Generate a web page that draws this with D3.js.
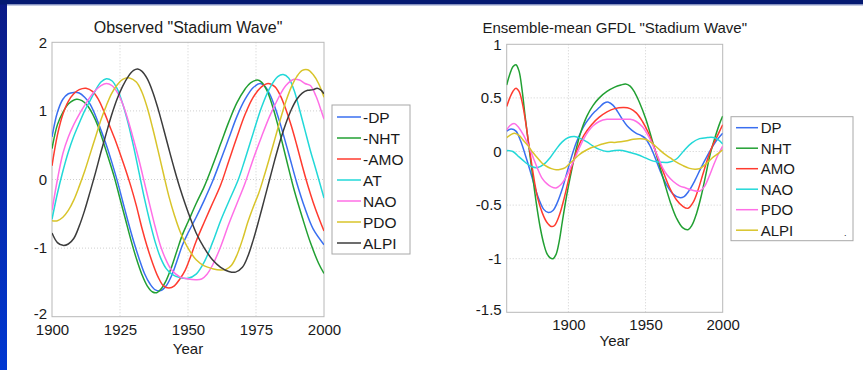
<!DOCTYPE html>
<html>
<head>
<meta charset="utf-8">
<script src="https://cdn.jsdelivr.net/npm/d3@7"></script>
<style>
  html, body { margin: 0; padding: 0; background: #ffffff; }
  svg { display: block; }
  text { font-family: "Liberation Sans", Arial, Helvetica, sans-serif; fill: #1a1a1a; }
</style>
</head>
<body>
<svg id="chart" width="863" height="370"></svg>
<script>
// ---------- Observed indices (1900-2000) ----------
const obsNames = ["-DP", "-NHT", "-AMO", "AT", "NAO", "PDO", "ALPI"];
const obsDP = [[1900,0.62],[1902,0.98],[1904,1.17],[1906,1.25],[1908,1.27],[1910,1.26],[1912,1.2],[1914,1.1],[1916,0.93],[1918,0.72],[1920,0.5],[1922,0.25],[1924,-0.02],[1926,-0.32],[1928,-0.62],[1930,-0.9],[1932,-1.15],[1934,-1.37],[1936,-1.52],[1938,-1.61],[1940,-1.62],[1942,-1.55],[1944,-1.4],[1946,-1.18],[1948,-0.95],[1950,-0.78],[1953,-0.55],[1956,-0.3],[1959,-0.03],[1962,0.28],[1965,0.6],[1968,0.92],[1971,1.17],[1974,1.34],[1976.5,1.40],[1978,1.37],[1980,1.25],[1982,1.05],[1984,0.8],[1987,0.38],[1990,-0.05],[1993,-0.42],[1996,-0.72],[2000,-0.95]];
const obsNHT = [[1900,0.45],[1902,0.8],[1904,0.98],[1906,1.1],[1909,1.17],[1911,1.15],[1913,1.08],[1915,0.95],[1917,0.77],[1919,0.53],[1921,0.28],[1923,0.02],[1925,-0.28],[1927,-0.58],[1929,-0.88],[1931,-1.15],[1933,-1.38],[1935,-1.55],[1937,-1.64],[1938.5,-1.65],[1940,-1.6],[1942,-1.47],[1944,-1.27],[1946,-1.03],[1948,-0.8],[1950,-0.62],[1953,-0.35],[1956,-0.1],[1959,0.2],[1962,0.52],[1965,0.84],[1968,1.12],[1971,1.32],[1973,1.41],[1975.5,1.45],[1977,1.42],[1979,1.3],[1981,1.08],[1983,0.8],[1986,0.32],[1989,-0.15],[1992,-0.55],[1995,-0.92],[1998,-1.22],[2000,-1.37]];
const obsAMO = [[1900,0.2],[1902,0.65],[1904,0.95],[1906,1.14],[1908,1.25],[1910,1.31],[1912.5,1.33],[1915,1.28],[1917,1.17],[1919,1.0],[1921,0.8],[1923,0.6],[1925,0.38],[1927,0.15],[1929,-0.1],[1931,-0.38],[1933,-0.7],[1935,-0.98],[1937,-1.22],[1939,-1.42],[1941,-1.55],[1943,-1.58],[1945,-1.55],[1947,-1.45],[1949,-1.32],[1951,-1.12],[1953,-0.9],[1956,-0.62],[1959,-0.35],[1962,-0.08],[1965,0.27],[1968,0.62],[1971,0.95],[1974,1.2],[1977,1.35],[1979.5,1.40],[1982,1.35],[1984,1.22],[1986,1.02],[1988,0.78],[1990,0.5],[1992,0.2],[1994,-0.08],[1996,-0.33],[1998,-0.55],[2000,-0.75]];
const obsAT = [[1900,-0.58],[1902,-0.2],[1904,0.12],[1906,0.4],[1908,0.63],[1910,0.82],[1912,1.0],[1914,1.15],[1916,1.3],[1918,1.42],[1920,1.47],[1922,1.44],[1924,1.32],[1926,1.1],[1928,0.82],[1930,0.48],[1932,0.1],[1934,-0.28],[1936,-0.62],[1938,-0.92],[1940,-1.15],[1942,-1.3],[1944,-1.38],[1947,-1.43],[1950,-1.44],[1953,-1.38],[1956,-1.2],[1959,-0.92],[1962,-0.6],[1965,-0.32],[1968.5,0.0],[1971,0.3],[1974,0.68],[1977,1.05],[1980,1.33],[1983,1.5],[1985,1.53],[1987,1.48],[1989,1.3],[1991,1.02],[1993,0.72],[1995,0.42],[1997,0.15],[2000,-0.27]];
const obsNAO = [[1900,-0.45],[1902,0.0],[1904,0.38],[1906,0.62],[1908,0.8],[1910,0.95],[1912,1.08],[1914,1.2],[1916,1.3],[1918,1.37],[1920,1.4],[1922,1.37],[1924,1.27],[1926,1.1],[1928,0.86],[1930,0.58],[1932,0.28],[1934,-0.05],[1936,-0.38],[1938,-0.7],[1940,-0.98],[1942,-1.18],[1944,-1.32],[1947,-1.42],[1950,-1.45],[1953,-1.46],[1955,-1.45],[1957,-1.38],[1959,-1.25],[1962,-0.98],[1965,-0.65],[1968,-0.35],[1971,-0.05],[1974,0.3],[1977,0.62],[1980,0.92],[1983,1.17],[1986,1.37],[1989,1.46],[1991,1.45],[1993,1.4],[1995,1.37],[1997,1.22],[1999,1.0],[2000,0.88]];
const obsPDO = [[1900,-0.6],[1902,-0.6],[1904,-0.55],[1906,-0.45],[1908,-0.3],[1910,-0.1],[1912,0.12],[1914,0.37],[1916,0.62],[1918,0.87],[1920,1.08],[1922,1.26],[1924,1.38],[1926,1.46],[1928.5,1.48],[1931,1.42],[1933,1.28],[1935,1.05],[1937,0.75],[1939,0.42],[1941,0.08],[1943,-0.25],[1945,-0.52],[1947,-0.75],[1950,-1.0],[1953,-1.17],[1956,-1.26],[1959,-1.3],[1962,-1.32],[1964,-1.31],[1966,-1.25],[1968,-1.1],[1970,-0.88],[1972,-0.62],[1974,-0.4],[1976,-0.2],[1978,0.05],[1980,0.32],[1982,0.6],[1984,0.88],[1986,1.14],[1988,1.35],[1990,1.5],[1992,1.59],[1994,1.6],[1996,1.53],[1998,1.4],[2000,1.2]];
const obsALPI = [[1900,-0.78],[1902,-0.92],[1904,-0.96],[1906,-0.94],[1908,-0.86],[1910,-0.68],[1912,-0.45],[1914,-0.18],[1916,0.1],[1918,0.4],[1920,0.68],[1922,0.95],[1924,1.18],[1926,1.36],[1928,1.5],[1930,1.59],[1931.5,1.61],[1933,1.58],[1935,1.47],[1937,1.28],[1939,1.03],[1941,0.74],[1943,0.44],[1945,0.15],[1947,-0.12],[1949,-0.36],[1951,-0.58],[1953,-0.78],[1956,-1.0],[1959,-1.17],[1962,-1.28],[1965,-1.34],[1967.5,-1.35],[1970,-1.28],[1972,-1.12],[1974,-0.88],[1976,-0.6],[1978,-0.3],[1980,0.0],[1982,0.3],[1984,0.58],[1986,0.82],[1988,1.02],[1990,1.17],[1992,1.26],[1994,1.3],[1996,1.31],[1997.5,1.33],[1999,1.3],[2000,1.25]];

// ---------- GFDL ensemble-mean indices (1860-2000) ----------
const gfdlNames = ["DP", "NHT", "AMO", "NAO", "PDO", "ALPI"];
const gfdlDP = [[1860,0.19],[1863,0.21],[1866,0.19],[1869,0.1],[1872,-0.03],[1875,-0.17],[1878,-0.32],[1881,-0.45],[1884,-0.54],[1887,-0.57],[1890,-0.55],[1893,-0.47],[1896,-0.35],[1899,-0.2],[1902,-0.05],[1905,0.08],[1908,0.18],[1911,0.26],[1914,0.32],[1917,0.37],[1920,0.41],[1923,0.45],[1926,0.46],[1929,0.43],[1932,0.37],[1935,0.3],[1938,0.24],[1941,0.2],[1944,0.17],[1947,0.15],[1950,0.12],[1953,0.05],[1956,-0.05],[1960,-0.2],[1964,-0.32],[1968,-0.4],[1972,-0.43],[1975,-0.42],[1978,-0.37],[1982,-0.27],[1986,-0.15],[1990,-0.04],[1994,0.06],[1997,0.12],[2000,0.17]];
const gfdlNHT = [[1860,0.62],[1862,0.72],[1864,0.79],[1866,0.81],[1868,0.75],[1870,0.57],[1872,0.32],[1874,0.09],[1876,-0.14],[1878,-0.36],[1880,-0.56],[1882,-0.73],[1884,-0.86],[1886,-0.95],[1888,-0.99],[1890,-1.0],[1892,-0.96],[1894,-0.84],[1896,-0.66],[1899,-0.4],[1902,-0.18],[1905,0.02],[1908,0.18],[1912,0.33],[1916,0.43],[1920,0.5],[1925,0.56],[1930,0.6],[1934,0.62],[1937,0.63],[1940,0.61],[1943,0.55],[1946,0.46],[1950,0.31],[1954,0.12],[1958,-0.08],[1962,-0.28],[1966,-0.47],[1970,-0.62],[1974,-0.71],[1977.5,-0.73],[1980,-0.69],[1983,-0.58],[1986,-0.42],[1989,-0.22],[1992,-0.02],[1995,0.13],[1998,0.26],[2000,0.33]];
const gfdlAMO = [[1860,0.42],[1862,0.5],[1864,0.56],[1866,0.59],[1868,0.56],[1870,0.46],[1872,0.3],[1874,0.1],[1876,-0.1],[1878,-0.28],[1880,-0.43],[1883,-0.57],[1886,-0.66],[1889,-0.7],[1891,-0.69],[1894,-0.6],[1897,-0.45],[1900,-0.27],[1903,-0.1],[1906,0.03],[1910,0.15],[1915,0.25],[1920,0.32],[1925,0.37],[1930,0.4],[1936,0.41],[1940,0.4],[1944,0.36],[1948,0.28],[1952,0.17],[1955,0.06],[1958,-0.06],[1962,-0.21],[1966,-0.35],[1970,-0.45],[1974,-0.51],[1977.5,-0.53],[1981,-0.47],[1984,-0.36],[1987,-0.22],[1990,-0.08],[1993,0.04],[1996,0.13],[2000,0.25]];
const gfdlNAO = [[1860,0.01],[1864,0.0],[1868,-0.05],[1872,-0.1],[1876,-0.14],[1880,-0.15],[1884,-0.12],[1888,-0.06],[1892,0.02],[1896,0.09],[1900,0.13],[1904,0.14],[1908,0.12],[1912,0.09],[1916,0.05],[1920,0.02],[1925,0.0],[1930,0.01],[1935,0.01],[1940,-0.01],[1945,-0.03],[1950,-0.06],[1955,-0.09],[1960,-0.1],[1965,-0.1],[1970,-0.07],[1975,0.01],[1980,0.08],[1985,0.12],[1990,0.13],[1994,0.13],[1997,0.11],[2000,0.07]];
const gfdlPDO = [[1860,0.2],[1862,0.24],[1865,0.26],[1868,0.22],[1871,0.15],[1874,0.06],[1877,-0.05],[1880,-0.16],[1883,-0.25],[1886,-0.3],[1889,-0.33],[1892,-0.34],[1895,-0.31],[1898,-0.25],[1901,-0.16],[1904,-0.07],[1907,0.03],[1910,0.12],[1913,0.19],[1916,0.24],[1920,0.28],[1925,0.3],[1930,0.3],[1935,0.3],[1940,0.3],[1944,0.28],[1948,0.23],[1952,0.14],[1955,0.05],[1958,-0.05],[1961,-0.15],[1964,-0.22],[1968,-0.28],[1972,-0.32],[1976,-0.34],[1980,-0.36],[1985,-0.37],[1988,-0.33],[1991,-0.24],[1994,-0.13],[1997,-0.03],[2000,0.05]];
const gfdlALPI = [[1860,0.13],[1863,0.16],[1865,0.17],[1868,0.15],[1871,0.1],[1874,0.05],[1877,-0.01],[1880,-0.06],[1883,-0.11],[1886,-0.14],[1889,-0.16],[1892,-0.17],[1895,-0.165],[1898,-0.15],[1901,-0.11],[1904,-0.07],[1907,-0.03],[1910,0.0],[1914,0.03],[1918,0.05],[1922,0.07],[1926,0.085],[1930,0.085],[1934,0.09],[1938,0.1],[1942,0.115],[1946,0.12],[1950,0.115],[1954,0.08],[1958,0.03],[1962,-0.02],[1966,-0.06],[1970,-0.1],[1974,-0.13],[1978,-0.155],[1982,-0.165],[1985,-0.16],[1988,-0.13],[1991,-0.09],[1994,-0.05],[1997,-0.02],[2000,0.015]];

// ---------- Axis ticks ----------
const obsXTicks = [1900, 1925, 1950, 1975, 2000];
const obsYTicks = [-2, -1, 0, 1, 2];
const gfdlXTicks = [1900, 1950, 2000];
const gfdlYTicks = [-1.5, -1, -0.5, 0, 0.5, 1];

// ---------- Styling ----------
const obsColors = ["#3a6ff0", "#22a033", "#ff3b2f", "#22d8d8", "#ff6fe6", "#d8c42a", "#3c3c3c"];
const gfdlColors = ["#3a6ff0", "#22a033", "#ff3b2f", "#22d8d8", "#ff6fe6", "#d8c42a"];

const svg = d3.select("#chart");

// Slide-style frame: navy band across the top, blue strip on the left
const defs = svg.append("defs");
const grad = defs.append("linearGradient").attr("id", "strip").attr("x1", 0).attr("y1", 0).attr("x2", 0).attr("y2", 1);
grad.append("stop").attr("offset", "0%").attr("stop-color", "#0b1a86");
grad.append("stop").attr("offset", "100%").attr("stop-color", "#0038d2");
svg.append("rect").attr("x", 0).attr("y", 0).attr("width", 863).attr("height", 370).attr("fill", "#ffffff");
svg.append("rect").attr("x", 0).attr("y", 0).attr("width", 7).attr("height", 370).attr("fill", "url(#strip)");
svg.append("rect").attr("x", 0).attr("y", 0).attr("width", 863).attr("height", 4.5).attr("fill", "#051a72");
svg.append("rect").attr("x", 7).attr("y", 4.5).attr("width", 856).attr("height", 1).attr("fill", "#8c98c8");

function drawPanel(cfg) {
  const x = d3.scaleLinear().domain(cfg.xDomain).range([cfg.left, cfg.right]);
  const y = d3.scaleLinear().domain(cfg.yDomain).range([cfg.bottom, cfg.top]);
  const g = svg.append("g");

  // dotted grid
  g.append("g").selectAll("line").data(cfg.xTicks.filter(t => t > cfg.xDomain[0] && t < cfg.xDomain[1]))
    .join("line")
    .attr("x1", d => x(d)).attr("x2", d => x(d))
    .attr("y1", cfg.top).attr("y2", cfg.bottom)
    .attr("stroke", "#cfcfcf").attr("stroke-width", 1).attr("stroke-dasharray", "1,2");
  g.append("g").selectAll("line").data(cfg.yTicks.filter(t => t > cfg.yDomain[0] && t < cfg.yDomain[1]))
    .join("line")
    .attr("x1", cfg.left).attr("x2", cfg.right)
    .attr("y1", d => y(d)).attr("y2", d => y(d))
    .attr("stroke", "#cfcfcf").attr("stroke-width", 1).attr("stroke-dasharray", "1,2");

  // axes with tick labels
  const xAxis = d3.axisBottom(x).tickValues(cfg.xTicks).tickFormat(d3.format("d")).tickSize(0).tickPadding(cfg.xPad);
  const yAxis = d3.axisLeft(y).tickValues(cfg.yTicks).tickFormat(d => String(d)).tickSize(0).tickPadding(5);
  const gx = g.append("g").attr("transform", `translate(0,${cfg.bottom})`).call(xAxis);
  const gy = g.append("g").attr("transform", `translate(${cfg.left},0)`).call(yAxis);
  [gx, gy].forEach(a => {
    a.select(".domain").remove();
    a.selectAll("text").attr("font-size", 15).attr("fill", "#1a1a1a")
      .style("font-family", '"Liberation Sans", Arial, sans-serif');
  });
  // the lowest y label sits right above the first year label; lift it a little
  gy.selectAll(".tick text").filter(d => d === cfg.yDomain[0]).attr("y", -3);

  // axes box
  g.append("rect").attr("x", cfg.left).attr("y", cfg.top)
    .attr("width", cfg.right - cfg.left).attr("height", cfg.bottom - cfg.top)
    .attr("fill", "none").attr("stroke", "#b8b8b8").attr("stroke-width", 1);

  // series lines
  const line = d3.line().x(d => x(d[0])).y(d => y(d[1])).curve(d3.curveCatmullRom.alpha(0.5));
  const clipId = "clip" + cfg.id;
  defs.append("clipPath").attr("id", clipId).append("rect")
    .attr("x", cfg.left).attr("y", cfg.top - 1).attr("width", cfg.right - cfg.left).attr("height", cfg.bottom - cfg.top + 2);
  g.append("g").attr("clip-path", `url(#${clipId})`)
    .selectAll("path").data(cfg.series).join("path")
    .attr("d", d => line(d))
    .attr("fill", "none")
    .attr("stroke", (d, i) => cfg.colors[i])
    .attr("stroke-width", 1.5)
    .attr("stroke-linejoin", "round");

  // title and x label
  g.append("text").attr("x", (cfg.left + cfg.right) / 2).attr("y", cfg.titleY)
    .attr("text-anchor", "middle").attr("font-size", cfg.titleSize).text(cfg.title);
  g.append("text").attr("x", (cfg.left + cfg.right) / 2).attr("y", cfg.labelY)
    .attr("text-anchor", "middle").attr("font-size", 15).text("Year");

  // legend
  const L = cfg.legend;
  const lg = g.append("g");
  lg.append("rect").attr("x", L.x).attr("y", L.y).attr("width", L.w).attr("height", L.h)
    .attr("fill", "#ffffff").attr("stroke", "#a8a8a8").attr("stroke-width", 1);
  const rows = lg.selectAll("g.row").data(cfg.names).join("g").attr("class", "row")
    .attr("transform", (d, i) => `translate(0,${L.firstRow + i * L.step})`);
  rows.append("line").attr("x1", L.lineX1).attr("x2", L.lineX2).attr("y1", 0).attr("y2", 0)
    .attr("stroke", (d, i) => cfg.colors[i]).attr("stroke-width", 1.5);
  rows.append("text").attr("x", L.textX).attr("y", 0).attr("dy", "0.36em")
    .attr("font-size", L.fontSize).text(d => d);
  return { g, x, y };
}

drawPanel({
  id: "obs",
  xDomain: [1900, 2000], yDomain: [-2, 2],
  left: 52, right: 324, top: 42.3, bottom: 316.7,
  xTicks: obsXTicks, yTicks: obsYTicks, xPad: 8,
  series: [obsDP, obsNHT, obsAMO, obsAT, obsNAO, obsPDO, obsALPI],
  colors: obsColors, names: obsNames,
  title: 'Observed "Stadium Wave"', titleY: 33, titleSize: 16,
  labelY: 354,
  legend: { x: 332, y: 105, w: 78, h: 149, firstRow: 117, step: 21, lineX1: 337, lineX2: 361, textX: 363, fontSize: 15.5 }
});

const right = drawPanel({
  id: "gfdl",
  xDomain: [1860, 2000], yDomain: [-1.5, 1],
  left: 506.7, right: 722.7, top: 44.3, bottom: 312.3,
  xTicks: gfdlXTicks, yTicks: gfdlYTicks, xPad: 7,
  series: [gfdlDP, gfdlNHT, gfdlAMO, gfdlNAO, gfdlPDO, gfdlALPI],
  colors: gfdlColors, names: gfdlNames,
  title: 'Ensemble-mean GFDL "Stadium Wave"', titleY: 32.5, titleSize: 15,
  labelY: 346,
  legend: { x: 731, y: 116.7, w: 122, h: 124, firstRow: 127.7, step: 20.5, lineX1: 736, lineX2: 758, textX: 760.7, fontSize: 15 }
});
// stray period in the GFDL legend box
right.g.append("text").attr("x", 844).attr("y", 236).attr("font-size", 9).text(".");
</script>
</body>
</html>
